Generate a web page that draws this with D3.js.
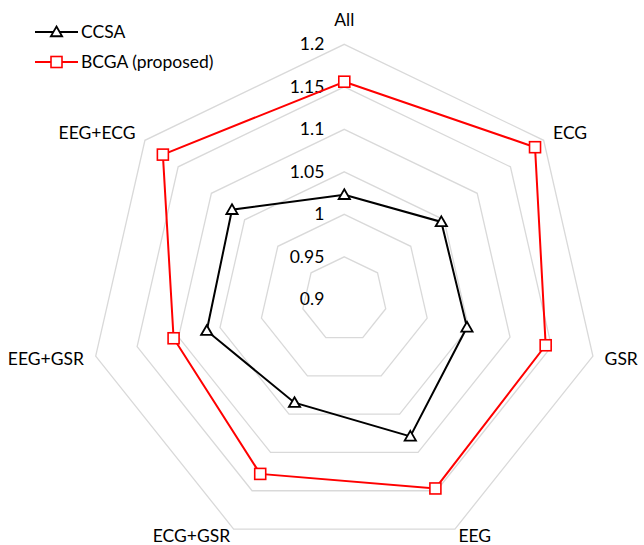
<!DOCTYPE html>
<html>
<head>
<meta charset="utf-8">
<script src="https://cdn.jsdelivr.net/npm/d3@7"></script>
<style>
  html, body { margin: 0; padding: 0; background: #fff; }
  svg { display: block; font-family: Lato, "Open Sans", sans-serif; }
</style>
</head>
<body>
<svg id="chart" width="644" height="545"></svg>
<script>
// Modality combinations around the radar
const categories = ["All", "ECG", "GSR", "EEG", "ECG+GSR", "EEG+GSR", "EEG+ECG"];
// Series values per category
const ccsa = [1.023, 1.046, 1.048, 1.079, 1.035, 1.066, 1.069];
const bcga = [1.156, 1.187, 1.143, 1.147, 1.128, 1.106, 1.173];
// Radial ticks
const ticks = [0.9, 0.95, 1.0, 1.05, 1.1, 1.15, 1.2];
const tickLabels = ["0.9", "0.95", "1", "1.05", "1.1", "1.15", "1.2"];
const seriesNames = ["CCSA", "BCGA (proposed)"];

const svg = d3.select("#chart");
const cx = 344.3, cy = 299.3, R = 255;
const fontSize = 17.5;

const r = d3.scaleLinear().domain([0.9, 1.2]).range([0, R]);
const angle = d3.scaleLinear().domain([0, categories.length]).range([0, 2 * Math.PI]);
const pt = (i, v) => {
  const a = angle(i);
  return [cx + r(v) * Math.sin(a), cy - r(v) * Math.cos(a)];
};

// Grid rings (heptagons)
const g = svg.append("g");
ticks.slice(1).forEach(t => {
  g.append("polygon")
    .attr("points", categories.map((c, i) => pt(i, t).join(",")).join(" "))
    .attr("fill", "none")
    .attr("stroke", "#d9d9d9")
    .attr("stroke-width", 1.3);
});

// Tick labels along the top axis
ticks.forEach((t, i) => {
  svg.append("text")
    .attr("x", cx - 20)
    .attr("y", cy - r(t))
    .attr("dy", "0.35em")
    .attr("text-anchor", "end")
    .attr("font-size", fontSize)
    .attr("fill", "#000")
    .text(tickLabels[i]);
});

// Category labels
categories.forEach((c, i) => {
  const a = angle(i);
  const s = Math.sin(a), co = Math.cos(a);
  const off = i === 0 ? 24 : (co < -0.5 ? 8 : 12);
  const x = cx + (R + off) * s;
  const y = cy - (R + off) * co;
  svg.append("text")
    .attr("x", x)
    .attr("y", y)
    .attr("dy", "0.35em")
    .attr("text-anchor", Math.abs(s) < 0.01 ? "middle" : (s > 0 ? "start" : "end"))
    .attr("font-size", fontSize)
    .attr("fill", "#000")
    .text(c);
});

const line = d3.line().curve(d3.curveLinearClosed);

function triangle(sel, x, y, color) {
  sel.append("path")
    .attr("d", d3.symbol().type(d3.symbolTriangle).size(55)())
    .attr("transform", `translate(${x},${y + 1})`)
    .attr("fill", "#fff")
    .attr("stroke", color)
    .attr("stroke-width", 1.8);
}
function square(sel, x, y, color) {
  sel.append("rect")
    .attr("x", x - 5.5).attr("y", y - 5.5)
    .attr("width", 11).attr("height", 11)
    .attr("fill", "#fff")
    .attr("stroke", color)
    .attr("stroke-width", 1.6);
}

// Series
const series = [
  { name: seriesNames[0], values: ccsa, color: "#000", marker: triangle },
  { name: seriesNames[1], values: bcga, color: "#ff0000", marker: square }
];
series.forEach(s => {
  const pts = s.values.map((v, i) => pt(i, v));
  svg.append("path")
    .attr("d", line(pts))
    .attr("fill", "none")
    .attr("stroke", s.color)
    .attr("stroke-width", 2);
  const mg = svg.append("g");
  pts.forEach(p => s.marker(mg, p[0], p[1], s.color));
});

// Legend
series.forEach((s, i) => {
  const y = 32 + i * 30;
  svg.append("line")
    .attr("x1", 35).attr("x2", 78).attr("y1", y).attr("y2", y)
    .attr("stroke", s.color).attr("stroke-width", 2);
  s.marker(svg, 56.5, y, s.color);
  svg.append("text")
    .attr("x", 81).attr("y", y).attr("dy", "0.35em")
    .attr("font-size", fontSize).attr("fill", "#000")
    .text(s.name);
});
</script>
</body>
</html>
